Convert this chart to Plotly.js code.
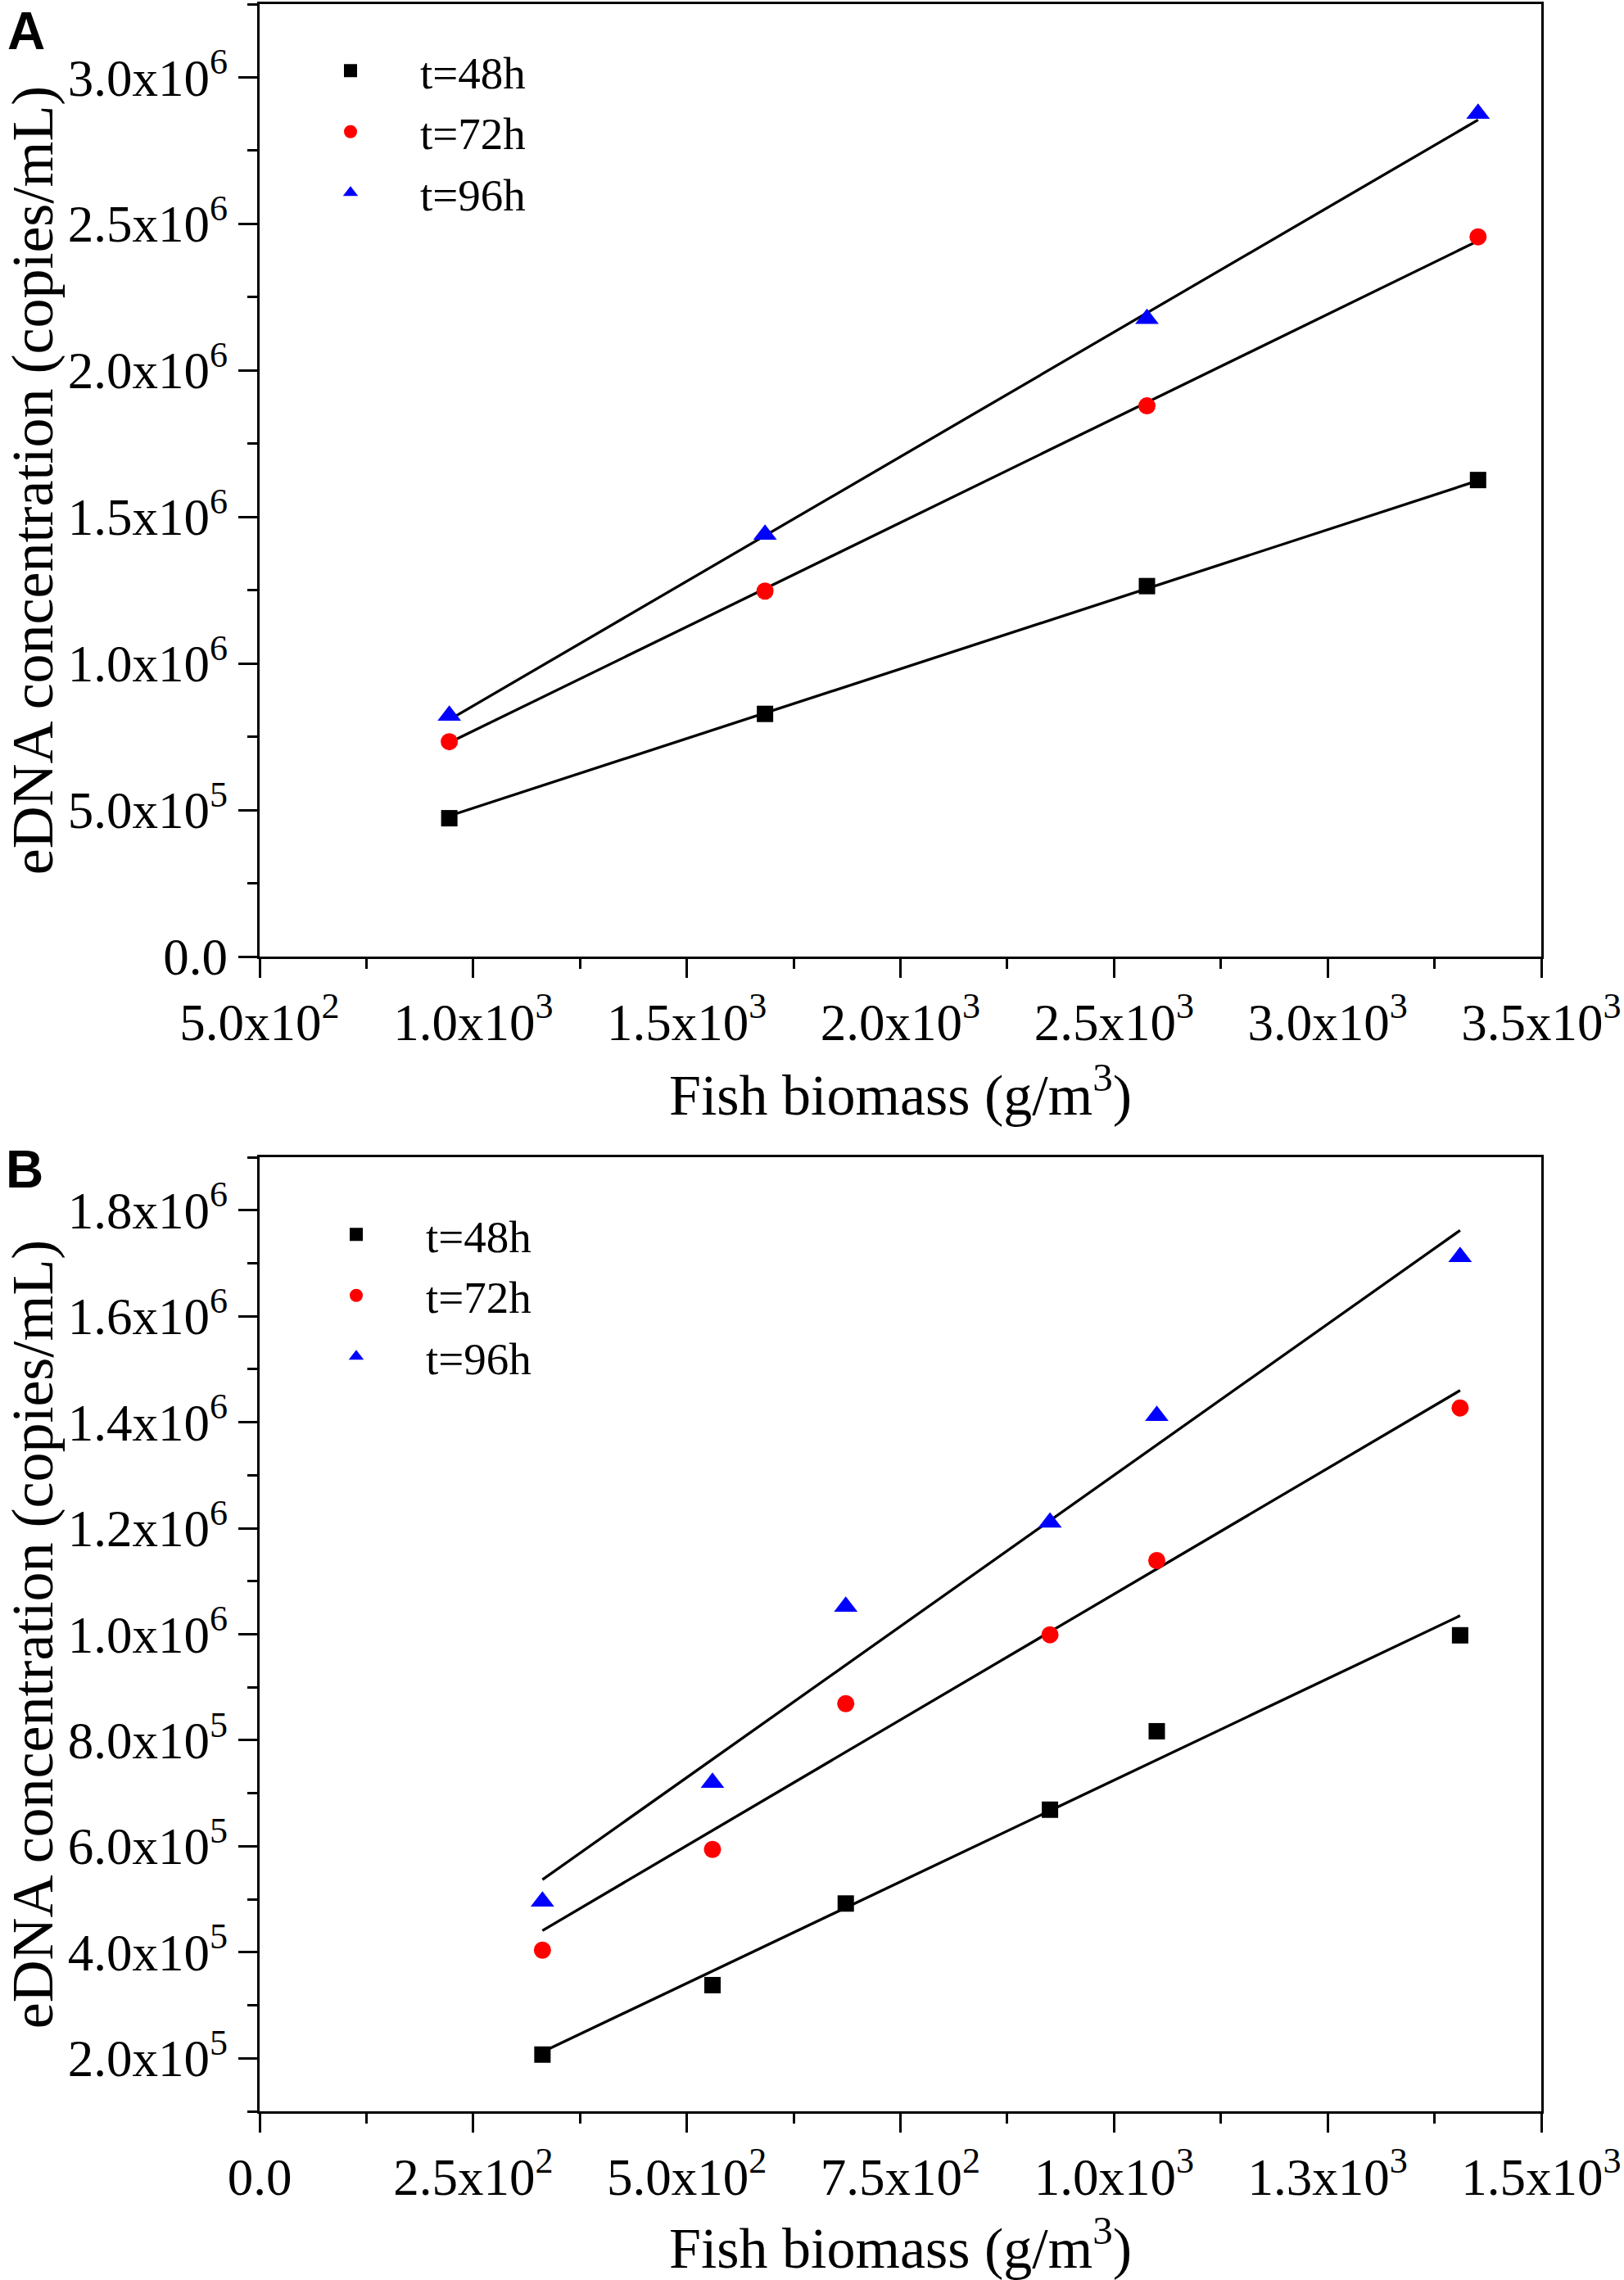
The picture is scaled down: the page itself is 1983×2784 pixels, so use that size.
<!DOCTYPE html>
<html>
<head>
<meta charset="utf-8">
<script src="https://cdn.plot.ly/plotly-3.0.1.min.js"></script>
<style>
  html, body { margin: 0; padding: 0; background: #fff; }
  #chart { width: 1983px; height: 2784px; }
</style>
</head>
<body>
<div id="chart"></div>
<script>
// panel A: biomass (g/m3) vs eDNA (copies/mL)
const seriesNames = ['t=48h', 't=72h', 't=96h'];

const biomassA = [944, 1683, 2577, 3352];
const a48 = [4.72e5, 8.28e5, 1.264e6, 1.626e6];
const a72 = [7.33e5, 1.247e6, 1.879e6, 2.456e6];
const a96 = [8.22e5, 1.44e6, 2.176e6, 2.876e6];
// fitted lines, read as end points
const fitXA = [944, 3352];
const fitA48 = [4.8e5, 1.624e6];
const fitA72 = [7.3e5, 2.442e6];
const fitA96 = [8.08e5, 2.855e6];

// panel B
const biomassB = [331, 530, 686, 925, 1050, 1405];
const b48 = [2.07e5, 3.38e5, 4.92e5, 6.69e5, 8.17e5, 9.98e5];
const b72 = [4.04e5, 5.94e5, 8.69e5, 9.99e5, 1.139e6, 1.427e6];
const b96 = [4.96e5, 7.2e5, 1.052e6, 1.211e6, 1.412e6, 1.712e6];
const fitXB = [331, 1405];
const fitB48 = [2.12e5, 1.035e6];
const fitB72 = [4.41e5, 1.46e6];
const fitB96 = [5.37e5, 1.762e6];

// ticks
const xTickValsA = [500, 1000, 1500, 2000, 2500, 3000, 3500];
const xTickTextA = ['5.0x10<sup>2</sup>', '1.0x10<sup>3</sup>', '1.5x10<sup>3</sup>', '2.0x10<sup>3</sup>',
  '2.5x10<sup>3</sup>', '3.0x10<sup>3</sup>', '3.5x10<sup>3</sup>'];
const yTickValsA = [0, 5e5, 1e6, 1.5e6, 2e6, 2.5e6, 3e6];
const yTickTextA = ['0.0', '5.0x10<sup>5</sup>', '1.0x10<sup>6</sup>', '1.5x10<sup>6</sup>',
  '2.0x10<sup>6</sup>', '2.5x10<sup>6</sup>', '3.0x10<sup>6</sup>'];
const xTickValsB = [0, 250, 500, 750, 1000, 1250, 1500];
const xTickTextB = ['0.0', '2.5x10<sup>2</sup>', '5.0x10<sup>2</sup>', '7.5x10<sup>2</sup>',
  '1.0x10<sup>3</sup>', '1.3x10<sup>3</sup>', '1.5x10<sup>3</sup>'];
const yTickValsB = [2e5, 4e5, 6e5, 8e5, 1e6, 1.2e6, 1.4e6, 1.6e6, 1.8e6];
const yTickTextB = ['2.0x10<sup>5</sup>', '4.0x10<sup>5</sup>', '6.0x10<sup>5</sup>', '8.0x10<sup>5</sup>',
  '1.0x10<sup>6</sup>', '1.2x10<sup>6</sup>', '1.4x10<sup>6</sup>', '1.6x10<sup>6</sup>', '1.8x10<sup>6</sup>'];

const SERIF = '"Liberation Serif", "Times New Roman", serif';
const SANS = '"Liberation Sans", Arial, sans-serif';
const markerStyles = [
  { symbol: 'square', size: 20, color: '#000000' },
  { symbol: 'circle', size: 21, color: '#ff0000' },
  { symbol: 'triangle-up', size: 25, color: '#0000ff' },
];

const pointTraces = (xs, ys, xa, ya, legend) => ys.map((y, i) => ({
  x: xs, y, xaxis: xa, yaxis: ya, legend,
  type: 'scatter', mode: 'markers', name: seriesNames[i],
  marker: markerStyles[i], showlegend: true,
}));

const lineTraces = (xs, ys, xa, ya) => ys.map(y => ({
  x: xs, y, xaxis: xa, yaxis: ya,
  type: 'scatter', mode: 'lines', showlegend: false,
  line: { color: '#000000', width: 3.3 },
}));

const data = [
  ...lineTraces(fitXA, [fitA48, fitA72, fitA96], 'x', 'y'),
  ...pointTraces(biomassA, [a48, a72, a96], 'x', 'y', 'legend'),
  ...lineTraces(fitXB, [fitB48, fitB72, fitB96], 'x2', 'y2'),
  ...pointTraces(biomassB, [b48, b72, b96], 'x2', 'y2', 'legend2'),
];

const minorTicks = dtick => ({ dtick, ticklen: 12, tickwidth: 3, tickcolor: '#000', ticks: 'outside', showgrid: false });

const axisBase = {
  showline: true, linecolor: '#000', linewidth: 3.3, mirror: true,
  showgrid: false, zeroline: false,
  ticks: 'outside', ticklen: 23, tickwidth: 3, tickcolor: '#000',
  tickfont: { family: SERIF, size: 63, color: '#000' },
  tickmode: 'array',
};

const xTitle = { text: 'Fish biomass (g/m<sup>3</sup>)', font: { family: SERIF, size: 70, color: '#000' }, standoff: 30 };
const yTitle = { text: 'eDNA concentration (copies/mL)', font: { family: SERIF, size: 72, color: '#000' }, standoff: 36 };

const W = 1983, H = 2784;
const dom = (a, b) => [a / W, b / W];
const domY = (top, bottom) => [1 - bottom / H, 1 - top / H];

const legendBase = {
  font: { family: SERIF, size: 55, color: '#000' },
  bgcolor: 'rgba(0,0,0,0)', borderwidth: 0,
  itemwidth: 160, xanchor: 'left', yanchor: 'top', tracegroupgap: 0,
};

const layout = {
  width: W, height: H,
  margin: { l: 0, r: 0, t: 0, b: 0 },
  paper_bgcolor: '#fff', plot_bgcolor: '#fff',
  showlegend: true,
  xaxis: { ...axisBase, domain: dom(317, 1882), range: [500, 3500], tickvals: xTickValsA, ticktext: xTickTextA,
    minor: minorTicks(250), anchor: 'y', title: xTitle },
  yaxis: { ...axisBase, domain: domY(5, 1168), range: [0, 3.25e6], tickvals: yTickValsA, ticktext: yTickTextA,
    minor: minorTicks(2.5e5), anchor: 'x', title: yTitle },
  xaxis2: { ...axisBase, domain: dom(317, 1882), range: [0, 1500], tickvals: xTickValsB, ticktext: xTickTextB,
    minor: minorTicks(125), anchor: 'y2', title: xTitle },
  yaxis2: { ...axisBase, domain: domY(1413, 2578), range: [1e5, 1.9e6], tickvals: yTickValsB, ticktext: yTickTextB,
    minor: { ...minorTicks(1e5), tick0: 1e5 }, anchor: 'x2', title: yTitle },
  legend: { ...legendBase, x: 343 / W, y: 1 - 44 / H },
  legend2: { ...legendBase, x: 350 / W, y: 1 - 1465 / H },
  annotations: [
    { text: '<b>A</b>', x: 32 / W, y: 1, xref: 'paper', yref: 'paper', showarrow: false,
      xanchor: 'center', yanchor: 'top', font: { family: SANS, size: 64, color: '#000' } },
    { text: '<b>B</b>', x: 30 / W, y: 1 - 1428 / H, xref: 'paper', yref: 'paper', showarrow: false,
      xanchor: 'center', yanchor: 'middle', font: { family: SANS, size: 64, color: '#000' } },
  ],
};

Plotly.newPlot('chart', data, layout, { staticPlot: true, displayModeBar: false });
</script>
</body>
</html>
